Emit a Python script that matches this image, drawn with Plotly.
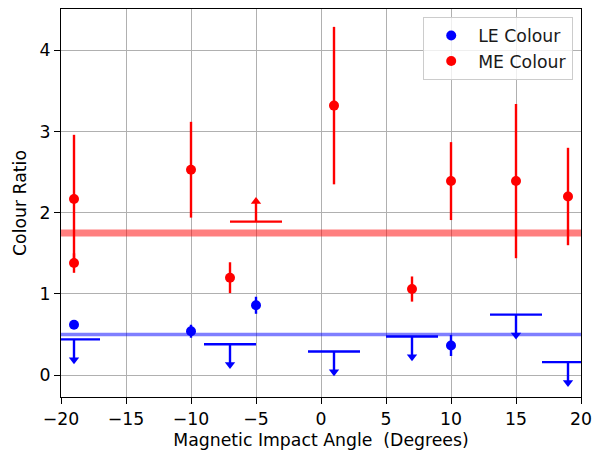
import plotly.graph_objects as go

# Magnetic impact angle (degrees) and colour ratios
me_angle = [-19, -19, -10, -7, 1, 7, 10, 15, 19]
me_ratio = [2.17, 1.38, 2.53, 1.20, 3.32, 1.06, 2.39, 2.39, 2.20]
me_err = [0.79, 0.12, 0.59, 0.19, 0.97, 0.155, 0.48, 0.95, 0.60]

le_angle = [-19, -10, -5, 10]
le_ratio = [0.62, 0.54, 0.86, 0.365]
le_err = [0.03, 0.08, 0.105, 0.13]

# Upper limits on the LE colour (arrow down) and lower limit on ME colour (arrow up)
le_lim_angle = [-19, -7, 1, 7, 15, 19]
le_lim_ratio = [0.44, 0.38, 0.29, 0.475, 0.745, 0.16]
me_lim_angle = [-5]
me_lim_ratio = [1.89]
lim_xerr = 2.0
arrow_len = 0.25

# Mean colour ratios
me_mean = 1.75
le_mean = 0.50

x_range = [-20, 20]
y_range = [-0.27, 4.51]
x_ticks = [-20, -15, -10, -5, 0, 5, 10, 15, 20]
y_ticks = [0, 1, 2, 3, 4]

RED = "#ff0000"
BLUE = "#0000ff"
FONT = "DejaVu Sans"
FS = 17.3
LW = 2.4

fig = go.Figure()

# mean lines across the full angle range
fig.add_trace(go.Scatter(x=x_range, y=[me_mean, me_mean], mode="lines",
                         line=dict(color="rgba(255,0,0,0.5)", width=7),
                         showlegend=False, hoverinfo="skip"))
fig.add_trace(go.Scatter(x=x_range, y=[le_mean, le_mean], mode="lines",
                         line=dict(color="rgba(0,0,255,0.5)", width=3.3),
                         showlegend=False, hoverinfo="skip"))


def add_limits(xs, ys, color, direction):
    down = direction == "down"
    # horizontal bar (angle bin) plus the vertical stem
    fig.add_trace(go.Scatter(
        x=xs, y=ys, mode="markers", marker=dict(size=1, color=color, opacity=0),
        error_x=dict(type="constant", value=lim_xerr, color=color, thickness=LW, width=0),
        error_y=dict(type="data", symmetric=False,
                     array=[0 if down else arrow_len] * len(ys),
                     arrayminus=[arrow_len if down else 0] * len(ys),
                     color=color, thickness=LW, width=0),
        showlegend=False, hoverinfo="skip"))
    tips = [y - arrow_len if down else y + arrow_len for y in ys]
    fig.add_trace(go.Scatter(
        x=xs, y=tips, mode="markers",
        marker=dict(symbol="triangle-down" if down else "triangle-up",
                    size=9, color=color, line=dict(width=0)),
        showlegend=False, hoverinfo="skip"))


add_limits(le_lim_angle, le_lim_ratio, BLUE, "down")
add_limits(me_lim_angle, me_lim_ratio, RED, "up")

fig.add_trace(go.Scatter(
    x=le_angle, y=le_ratio, mode="markers", name="LE Colour",
    marker=dict(size=10, color=BLUE),
    error_y=dict(type="data", array=le_err, color=BLUE, thickness=LW, width=0)))
fig.add_trace(go.Scatter(
    x=me_angle, y=me_ratio, mode="markers", name="ME Colour",
    marker=dict(size=10, color=RED),
    error_y=dict(type="data", array=me_err, color=RED, thickness=LW, width=0)))

axis_common = dict(
    showline=True, linecolor="black", linewidth=1.3, mirror=True,
    ticks="outside", ticklen=6, tickwidth=1.3, tickcolor="black",
    showgrid=True, gridcolor="#b0b0b0", gridwidth=1.3, zeroline=False,
    tickfont=dict(family=FONT, size=FS, color="black"), automargin=False,
)

fig.update_xaxes(range=x_range, tickvals=x_ticks,
                 title=dict(text="Magnetic Impact Angle \u00a0(Degrees)",
                            font=dict(family=FONT, size=FS, color="black"), standoff=6),
                 **axis_common)
fig.update_yaxes(range=y_range, tickvals=y_ticks,
                 title=dict(text="Colour Ratio",
                            font=dict(family=FONT, size=FS, color="black"), standoff=8),
                 **axis_common)

fig.update_layout(
    width=607, height=450,
    margin=dict(l=61, r=26, t=9, b=53),
    paper_bgcolor="white", plot_bgcolor="white",
    font=dict(family=FONT, size=FS, color="black"),
    legend=dict(x=0.985, y=0.98, xanchor="right", yanchor="top",
                bgcolor="rgba(255,255,255,0.8)", bordercolor="#cccccc", borderwidth=1,
                font=dict(family=FONT, size=FS, color="#1a1a1a"),
                itemwidth=44, tracegroupgap=0),
)

fig.write_html("out.html")
